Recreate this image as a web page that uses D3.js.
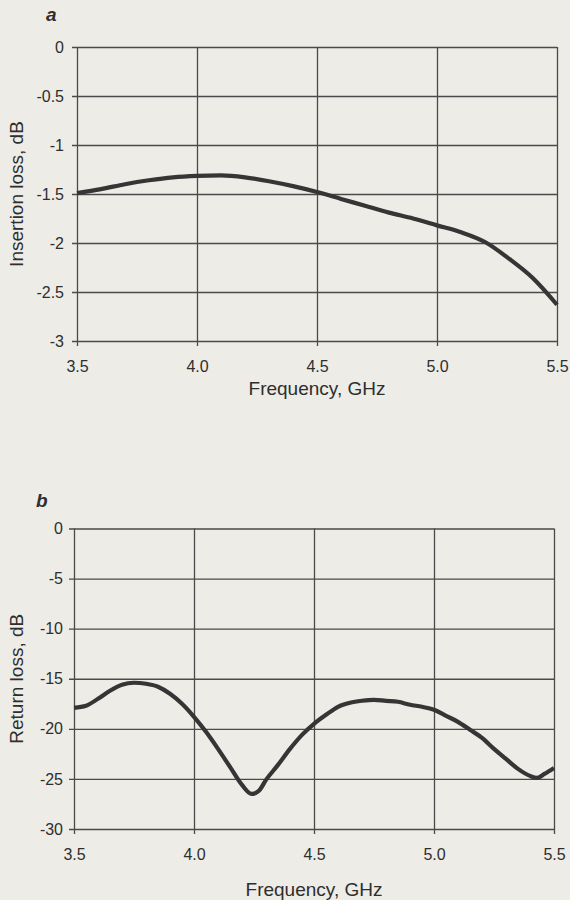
<!DOCTYPE html>
<html>
  <head>
    <meta charset="utf-8" />
    <script src="https://d3js.org/d3.v7.min.js"></script>
    <style>
      body { margin: 0; background: #edece7; }
      text { font-family: "Liberation Sans", Arial, sans-serif; fill: #2e2e2e; }
      .grid line { stroke: #4a4a4a; stroke-width: 1.3px; }
      .grid path { display: none; }
      .curve { fill: none; stroke: #353535; stroke-width: 4.2px; stroke-linejoin: round; }
    </style>
  </head>
  <body>
    <svg id="chart" width="570" height="900"></svg>
    <script>

      // panel a - insertion loss
      var freqA = [3.5, 3.6, 3.7, 3.8, 3.9, 4.0, 4.1, 4.2, 4.3, 4.4, 4.5,
                   4.6, 4.7, 4.8, 4.9, 5.0, 5.1, 5.2, 5.3, 5.4, 5.5];
      var insertionLoss = [-1.49, -1.45, -1.40, -1.36, -1.33, -1.315, -1.31, -1.33, -1.37, -1.42, -1.48,
                           -1.55, -1.62, -1.69, -1.75, -1.82, -1.89, -1.99, -2.16, -2.36, -2.63];
      var yTicksA = [0, -0.5, -1, -1.5, -2, -2.5, -3];

      // panel b - return loss
      var freqB = [3.5, 3.55, 3.6, 3.65, 3.7, 3.75, 3.8, 3.85, 3.9, 3.95, 4.0,
                   4.05, 4.1, 4.15, 4.2, 4.24, 4.27, 4.3, 4.35, 4.4, 4.45, 4.5,
                   4.55, 4.6, 4.65, 4.7, 4.75, 4.8, 4.85, 4.9, 4.95, 5.0,
                   5.05, 5.1, 5.15, 5.2, 5.25, 5.3, 5.35, 5.4, 5.43, 5.46, 5.5];
      var returnLoss = [-17.9, -17.7, -17.0, -16.2, -15.6, -15.4, -15.5, -15.8, -16.5, -17.5, -18.8,
                        -20.3, -22.0, -23.8, -25.6, -26.5, -26.2, -25.1, -23.6, -22.0, -20.6, -19.5,
                        -18.6, -17.8, -17.4, -17.2, -17.1, -17.2, -17.3, -17.6, -17.8, -18.1,
                        -18.7, -19.3, -20.1, -20.9, -22.0, -23.0, -24.0, -24.7, -24.9, -24.5, -23.9];
      var yTicksB = [0, -5, -10, -15, -20, -25, -30];

      var xTicks = [3.5, 4.0, 4.5, 5.0, 5.5];

      var svg = d3.select("#chart");

      function drawPanel(opts) {
        var w = opts.right - opts.left;
        var h = opts.bottom - opts.top;

        var x = d3.scaleLinear().domain([3.5, 5.5]).range([0, w]);
        var y = d3.scaleLinear().domain(opts.yDomain).range([0, h]);

        var g = svg.append("g")
          .attr("transform", "translate(" + opts.left + "," + opts.top + ")");

        // horizontal grid + y labels
        var yAxis = g.append("g")
          .attr("class", "grid")
          .call(d3.axisLeft(y)
            .tickValues(opts.yTicks)
            .tickSize(-w)
            .tickPadding(opts.yPad)
            .tickFormat(function(d) { return String(d); }));
        yAxis.selectAll("line").attr("x1", -5);
        yAxis.selectAll("text").attr("font-size", 16);

        // vertical grid + x labels
        var xAxis = g.append("g")
          .attr("class", "grid")
          .attr("transform", "translate(0," + h + ")")
          .call(d3.axisBottom(x)
            .tickValues(xTicks)
            .tickSize(-h)
            .tickPadding(20)
            .tickFormat(d3.format(".1f")));
        xAxis.selectAll("line").attr("y1", 5);
        xAxis.selectAll("text").attr("font-size", 16);

        var line = d3.line()
          .x(function(d, i) { return x(opts.freq[i]); })
          .y(function(d) { return y(d); })
          .curve(d3.curveMonotoneX);

        g.append("path")
          .attr("class", "curve")
          .attr("d", line(opts.values));

        // titles
        svg.append("text")
          .attr("x", opts.left + w / 2)
          .attr("y", opts.xTitleY)
          .attr("text-anchor", "middle")
          .attr("font-size", 19)
          .text("Frequency, GHz");

        svg.append("text")
          .attr("transform", "translate(23," + (opts.top + h / 2) + ") rotate(-90)")
          .attr("text-anchor", "middle")
          .attr("font-size", 19)
          .text(opts.yTitle);

        svg.append("text")
          .attr("x", opts.letterX)
          .attr("y", opts.letterY)
          .attr("font-size", 19)
          .attr("font-weight", "bold")
          .attr("font-style", "italic")
          .text(opts.letter);
      }

      drawPanel({
        left: 77, right: 557, top: 47, bottom: 341,
        yDomain: [0, -3], yTicks: yTicksA, yPad: 13,
        freq: freqA, values: insertionLoss,
        yTitle: "Insertion loss, dB", xTitleY: 395,
        letter: "a", letterX: 46, letterY: 21
      });

      drawPanel({
        left: 74, right: 554, top: 528.5, bottom: 829,
        yDomain: [0, -30], yTicks: yTicksB, yPad: 11,
        freq: freqB, values: returnLoss,
        yTitle: "Return loss, dB", xTitleY: 896,
        letter: "b", letterX: 36, letterY: 507
      });

    </script>
  </body>
</html>
